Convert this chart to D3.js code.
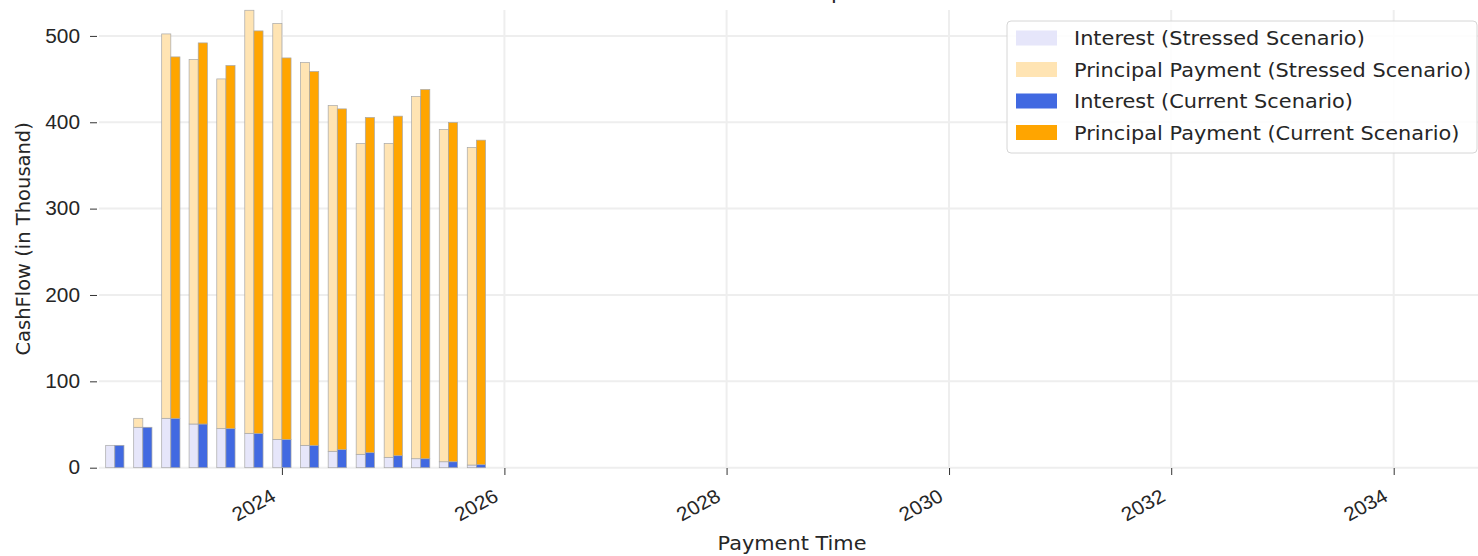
<!DOCTYPE html>
<html>
<head>
<meta charset="utf-8">
<script src="https://cdn.jsdelivr.net/npm/d3@7"></script>
<style>
  html, body { margin: 0; padding: 0; background: #fff; overflow: hidden; }
  svg { display: block; font-family: "DejaVu Sans", sans-serif; }
</style>
</head>
<body>
<svg id="chart" width="1478" height="556"></svg>
<script>
// ---- data ----
const dates = ["2022-07-01","2022-10-01","2023-01-01","2023-04-01","2023-07-01","2023-10-01","2024-01-01",
               "2024-04-01","2024-07-01","2024-10-01","2025-01-01","2025-04-01","2025-07-01","2025-10-01"];
const stressedInterest  = [25.9, 46.8, 57.2, 50.6, 45.2, 39.8, 32.8, 25.9, 19.0, 15.5, 12.0, 10.4, 6.9, 3.1];
const stressedPrincipal = [0, 10.4, 445.1, 422.1, 405.0, 489.9, 481.6, 443.3, 400.4, 360.0, 363.5, 419.5, 384.8, 367.7];
const currentInterest   = [25.9, 46.8, 57.2, 50.6, 45.2, 39.8, 32.8, 25.9, 20.9, 17.4, 13.9, 10.4, 6.9, 3.5];
const currentPrincipal  = [0, 0, 418.5, 441.3, 420.5, 466.0, 441.7, 432.9, 394.6, 388.2, 393.2, 427.5, 392.9, 375.8];
const yTicks = [0, 100, 200, 300, 400, 500];
const xTickYears = [2024, 2026, 2028, 2030, 2032, 2034];
const legendLabels = ["Interest (Stressed Scenario)", "Principal Payment (Stressed Scenario)",
                      "Interest (Current Scenario)", "Principal Payment (Current Scenario)"];
const colors = ["#E6E6FA", "#FFE4B3", "#4169E1", "#FFA500"];

// ---- layout ----
const svg = d3.select("#chart");
const mLeft = 99, mRight = 1485, mTop = 10, mBottom = 467.7;
const FS = "19.5px";          // font size
const SX = 1.07;              // horizontal stretch of the reference's glyphs
const parse = d3.utcParse("%Y-%m-%d");
const dayMs = 86400000;
const barDays = 30;

const x = d3.scaleUtc()
  .domain([Date.UTC(2022, 4, 10), Date.UTC(2034, 9, 28)])
  .range([mLeft, mRight]);
const y = d3.scaleLinear().domain([0, 530]).range([mBottom, mTop]);

const tickDates = xTickYears.map(yr => new Date(Date.UTC(yr, 0, 1)));

// gridlines
const grid = svg.append("g");
grid.selectAll("line.h").data(yTicks).join("line").attr("class", "h")
  .attr("x1", mLeft).attr("x2", mRight)
  .attr("y1", d => y(d)).attr("y2", d => y(d))
  .attr("stroke", "#eeeeee").attr("stroke-width", 2);
grid.selectAll("line.v").data(tickDates).join("line").attr("class", "v")
  .attr("x1", d => x(d)).attr("x2", d => x(d))
  .attr("y1", mTop).attr("y2", mBottom)
  .attr("stroke", "#eeeeee").attr("stroke-width", 2);

// bars
const rows = dates.map((s, i) => ({
  d: parse(s),
  si: stressedInterest[i], sp: stressedPrincipal[i],
  ci: currentInterest[i], cp: currentPrincipal[i]
}));
const shift = (d, n) => new Date(d.getTime() + n * dayMs);
const bars = svg.append("g").attr("stroke", "#a8a8a8").attr("stroke-width", 0.7);

function drawSeries(cls, x0f, x1f, y0f, y1f, fill) {
  bars.selectAll("rect." + cls).data(rows).join("rect")
    .attr("class", cls)
    .attr("x", d => x(x0f(d)))
    .attr("width", d => x(x1f(d)) - x(x0f(d)))
    .attr("y", d => y(y1f(d)))
    .attr("height", d => Math.max(0, y(y0f(d)) - y(y1f(d))))
    .attr("fill", fill)
    .attr("stroke-opacity", d => (y1f(d) - y0f(d)) > 0 ? 1 : 0);
}
drawSeries("si", d => shift(d.d, -barDays), d => d.d, d => 0, d => d.si, colors[0]);
drawSeries("sp", d => shift(d.d, -barDays), d => d.d, d => d.si, d => d.si + d.sp, colors[1]);
drawSeries("ci", d => d.d, d => shift(d.d, barDays), d => 0, d => d.ci, colors[2]);
drawSeries("cp", d => d.d, d => shift(d.d, barDays), d => d.ci, d => d.ci + d.cp, colors[3]);

// axes
const yAxis = svg.append("g").attr("transform", `translate(97,0)`)
  .call(d3.axisLeft(y).tickValues(yTicks).tickSize(7).tickPadding(10).tickFormat(d3.format("d")));
yAxis.select(".domain").remove();
yAxis.selectAll(".tick line").attr("stroke", "#333");
yAxis.selectAll(".tick text").attr("fill", "#262626").style("font-size", FS)
  .attr("transform", `translate(-17,0) scale(${SX},1) translate(17,0)`);

const xAxis = svg.append("g").attr("transform", `translate(0,468)`)
  .call(d3.axisBottom(x).tickValues(tickDates).tickSize(7).tickFormat(d3.utcFormat("%Y")));
xAxis.select(".domain").remove();
xAxis.selectAll(".tick line").attr("stroke", "#333");
xAxis.selectAll(".tick text")
  .attr("fill", "#262626").style("font-size", FS)
  .attr("text-anchor", "end").attr("dy", null).attr("y", null)
  .attr("transform", `translate(-5,32) scale(${SX},1) rotate(-30)`);

// helper for stretched free text
function label(xp, yp, txt, extra) {
  const g = svg.append("g").attr("transform", `translate(${xp},${yp}) ${extra || ""}`);
  return g.append("text").attr("fill", "#262626").style("font-size", FS).text(txt);
}

// axis labels
label((mLeft + mRight) / 2, 550, "Payment Time", `scale(${SX},1)`).attr("text-anchor", "middle");
label(30, (mTop + mBottom) / 2, "CashFlow (in Thousand)", "rotate(-90)").attr("text-anchor", "middle");

// title (mostly cut off above the picture, as in the reference)
label((mLeft + mRight) / 2, -1, "CashFlow Comparison", `scale(${SX},1)`)
  .attr("text-anchor", "middle").style("font-size", "20px");

// legend
const lg = svg.append("g");
lg.append("rect").attr("x", 1007).attr("y", 21).attr("width", 470).attr("height", 132)
  .attr("rx", 4).attr("fill", "#fff").attr("fill-opacity", 0.85)
  .attr("stroke", "#d6d6d6").attr("stroke-width", 1);
const rowY = d3.scalePoint().domain(d3.range(4)).range([38, 132.5]);
const items = lg.selectAll("g.item").data(legendLabels).join("g").attr("class", "item")
  .attr("transform", (d, i) => `translate(0,${rowY(i)})`);
items.append("rect").attr("x", 1016).attr("y", -7.5).attr("width", 41).attr("height", 15)
  .attr("fill", (d, i) => colors[i]);
items.append("text").attr("transform", `translate(1074,0) scale(${SX},1)`).attr("dy", "0.36em")
  .attr("fill", "#262626").style("font-size", FS).text(d => d);
</script>
</body>
</html>
